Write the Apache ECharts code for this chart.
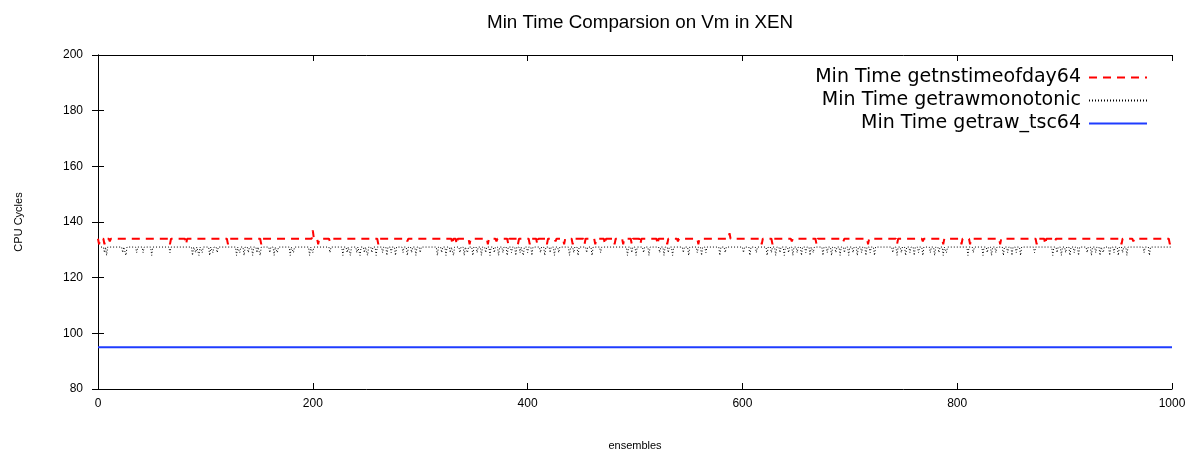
<!DOCTYPE html>
<html>
<head>
<meta charset="utf-8">
<script src="https://cdn.jsdelivr.net/npm/echarts@6/dist/echarts.min.js"></script>
<style>html,body{margin:0;padding:0;background:#fff}#c{width:1189px;height:450px}</style>
</head>
<body>
<div id="c"></div>
<script>
// ---- data ----
const titleText = 'Min Time Comparsion on Vm in XEN';
const seriesNames = ['Min Time getnstimeofday64', 'Min Time getrawmonotonic', 'Min Time getraw_tsc64'];
const xTicks = [0, 200, 400, 600, 800, 1000];
const yTicks = [80, 100, 120, 140, 160, 180, 200];
const firstEnsemble = 0;
const lastEnsemble = 1000;

// getnstimeofday64: usual value and the ensembles that differ from it
const nstimeUsual = 134;
const nstimeOther = [[1,132],[6,132],[11,133],[67,132],[82,132],[121,132],[152,132],[200,137],[205,132],
  [216,133],[261,132],[288,133],[330,132],[334,132],[346,132],[363,132],[371,133],[382,132],[391,132],
  [402,132],[409,132],[418,132],[426,133],[434,132],[442,132],[453,132],[463,132],[472,132],[481,132],
  [489,132],[497,132],[505,132],[521,132],[530,132],[540,133],[559,132],[588,136],[618,132],[628,132],
  [646,133],[669,132],[694,133],[717,132],[744,132],[768,133],[787,132],[804,132],[812,132],[840,132],
  [874,132],[882,132],[891,133],[953,132],[964,133],[998,132]];

// getrawmonotonic: usual value and the ensembles that differ from it
const monoUsual = 131;
const monoOther = [[6,129],[8,128],[23,129],[26,128],[36,129],[42,129],[50,128],[67,129],[88,128],[91,129],
  [94,128],[97,129],[104,128],[107,129],[111,129],[129,128],[132,129],[136,128],[140,129],[144,128],[148,129],
  [151,128],[160,129],[164,128],[167,129],[179,128],[182,129],[197,128],[200,129],[216,129],[228,128],
  [232,129],[235,128],[241,129],[244,128],[248,129],[251,128],[255,129],[259,128],[265,129],[269,128],
  [273,129],[277,128],[284,129],[288,128],[292,129],[296,128],[300,129],[316,128],[320,129],[324,128],
  [328,129],[331,128],[337,129],[341,128],[344,129],[349,128],[353,129],[357,128],[361,129],[365,128],
  [369,129],[373,128],[377,129],[381,128],[385,129],[389,128],[393,129],[396,128],[400,129],[404,128],
  [412,129],[416,128],[421,129],[425,128],[429,129],[439,128],[443,129],[447,128],[455,129],[460,128],
  [468,129],[493,128],[497,129],[501,128],[508,129],[513,128],[523,129],[527,128],[531,129],[535,128],
  [545,129],[550,128],[558,129],[562,128],[566,129],[579,128],[584,129],[601,129],[607,128],[613,129],
  [623,128],[627,129],[631,128],[635,129],[639,128],[643,129],[647,128],[651,129],[655,128],[659,129],
  [663,128],[666,129],[675,128],[679,129],[683,128],[687,129],[691,128],[695,129],[699,128],[703,129],
  [707,128],[711,129],[715,128],[719,129],[723,128],[740,129],[744,128],[748,129],[752,128],[756,129],
  [760,128],[764,129],[768,128],[775,129],[779,128],[783,129],[787,128],[790,129],[810,128],[815,129],
  [824,128],[828,129],[832,128],[836,129],[843,128],[847,129],[851,128],[855,129],[859,128],[872,129],
  [889,128],[893,129],[897,128],[901,129],[905,128],[909,129],[913,128],[921,129],[925,128],[929,129],
  [933,128],[936,129],[942,128],[946,129],[950,128],[954,129],[958,128],[974,129],[979,128]];

// getraw_tsc64: constant
const tscUsual = 95;
const tscOther = [];

// build [x, y] point lists: every differing ensemble plus its neighbours at the usual value
function buildPoints(usual, other) {
  const pts = [];
  const map = new Map(other.map(p => [p[0], p[1]]));
  const keys = new Set([firstEnsemble, lastEnsemble]);
  other.forEach(p => { keys.add(p[0]); if (p[0] - 1 >= firstEnsemble) keys.add(p[0] - 1); if (p[0] + 1 <= lastEnsemble) keys.add(p[0] + 1); });
  Array.from(keys).sort((a, b) => a - b).forEach(k => pts.push([k, map.has(k) ? map.get(k) : usual]));
  return pts;
}

const chart = echarts.init(document.getElementById('c'), null, { renderer: 'canvas' });
const font = '"Liberation Sans", Arial, sans-serif';
const axisBase = {
  type: 'value',
  splitLine: { show: false },
  axisLine: { show: true, lineStyle: { color: '#000', width: 1 } },
  axisTick: { show: true, inside: true, length: 6, lineStyle: { color: '#000' } }
};
chart.setOption({
  backgroundColor: '#fff',
  animation: false,
  title: {
    text: titleText, left: 482, top: 8,
    textStyle: { fontFamily: font, fontSize: 18.8, fontWeight: 'normal', color: '#000' }
  },
  legend: {
    orient: 'vertical', right: 41, top: 68, align: 'right', padding: 0,
    itemWidth: 58, itemHeight: 18, itemGap: 4,
    itemStyle: { opacity: 0 },
    textStyle: { fontFamily: '"DejaVu Sans", sans-serif', fontSize: 19, color: '#000', padding: [0, 3, 0, 0] },
    data: seriesNames
  },
  grid: { left: 98, top: 55, width: 1074, height: 334, show: false, outerBoundsMode: 'none', containLabel: false },
  xAxis: [
    Object.assign({}, axisBase, {
      min: xTicks[0], max: xTicks[xTicks.length - 1], interval: xTicks[1] - xTicks[0], position: 'bottom',
      name: 'ensembles', nameLocation: 'middle', nameGap: 51,
      nameTextStyle: { fontFamily: font, fontSize: 11, color: '#000' },
      axisLabel: { fontFamily: font, fontSize: 12, color: '#000', margin: 9, formatter: v => String(v) }
    }),
    Object.assign({}, axisBase, {
      min: xTicks[0], max: xTicks[xTicks.length - 1], interval: xTicks[1] - xTicks[0], position: 'top',
      axisLabel: { show: false }
    })
  ],
  yAxis: [
    Object.assign({}, axisBase, {
      min: yTicks[0], max: yTicks[yTicks.length - 1], interval: yTicks[1] - yTicks[0], position: 'left',
      name: 'CPU Cycles', nameLocation: 'middle', nameGap: 74, nameRotate: 90,
      nameTextStyle: { fontFamily: font, fontSize: 11, color: '#000' },
      axisLabel: { fontFamily: font, fontSize: 12, color: '#000', margin: 15 }
    }),
    Object.assign({}, axisBase, {
      min: yTicks[0], max: yTicks[yTicks.length - 1], interval: yTicks[1] - yTicks[0], position: 'right',
      axisLabel: { show: false }
    })
  ],
  series: [
    {
      name: seriesNames[0], type: 'line', symbol: 'none', xAxisIndex: 0, yAxisIndex: 0,
      data: buildPoints(nstimeUsual, nstimeOther),
      lineStyle: { color: '#ff0000', width: 2, type: [8, 6] }, itemStyle: { color: '#ff0000' }, z: 3
    },
    {
      name: seriesNames[1], type: 'line', symbol: 'none', xAxisIndex: 0, yAxisIndex: 0,
      data: buildPoints(monoUsual, monoOther),
      lineStyle: { color: '#000000', width: 1, type: [1, 2] }, itemStyle: { color: '#000000' }, z: 2
    },
    {
      name: seriesNames[2], type: 'line', symbol: 'none', xAxisIndex: 0, yAxisIndex: 0,
      data: buildPoints(tscUsual, tscOther),
      lineStyle: { color: '#1f3cff', width: 2, type: 'solid' }, itemStyle: { color: '#1f3cff' }, z: 2
    }
  ]
});
</script>
</body>
</html>
